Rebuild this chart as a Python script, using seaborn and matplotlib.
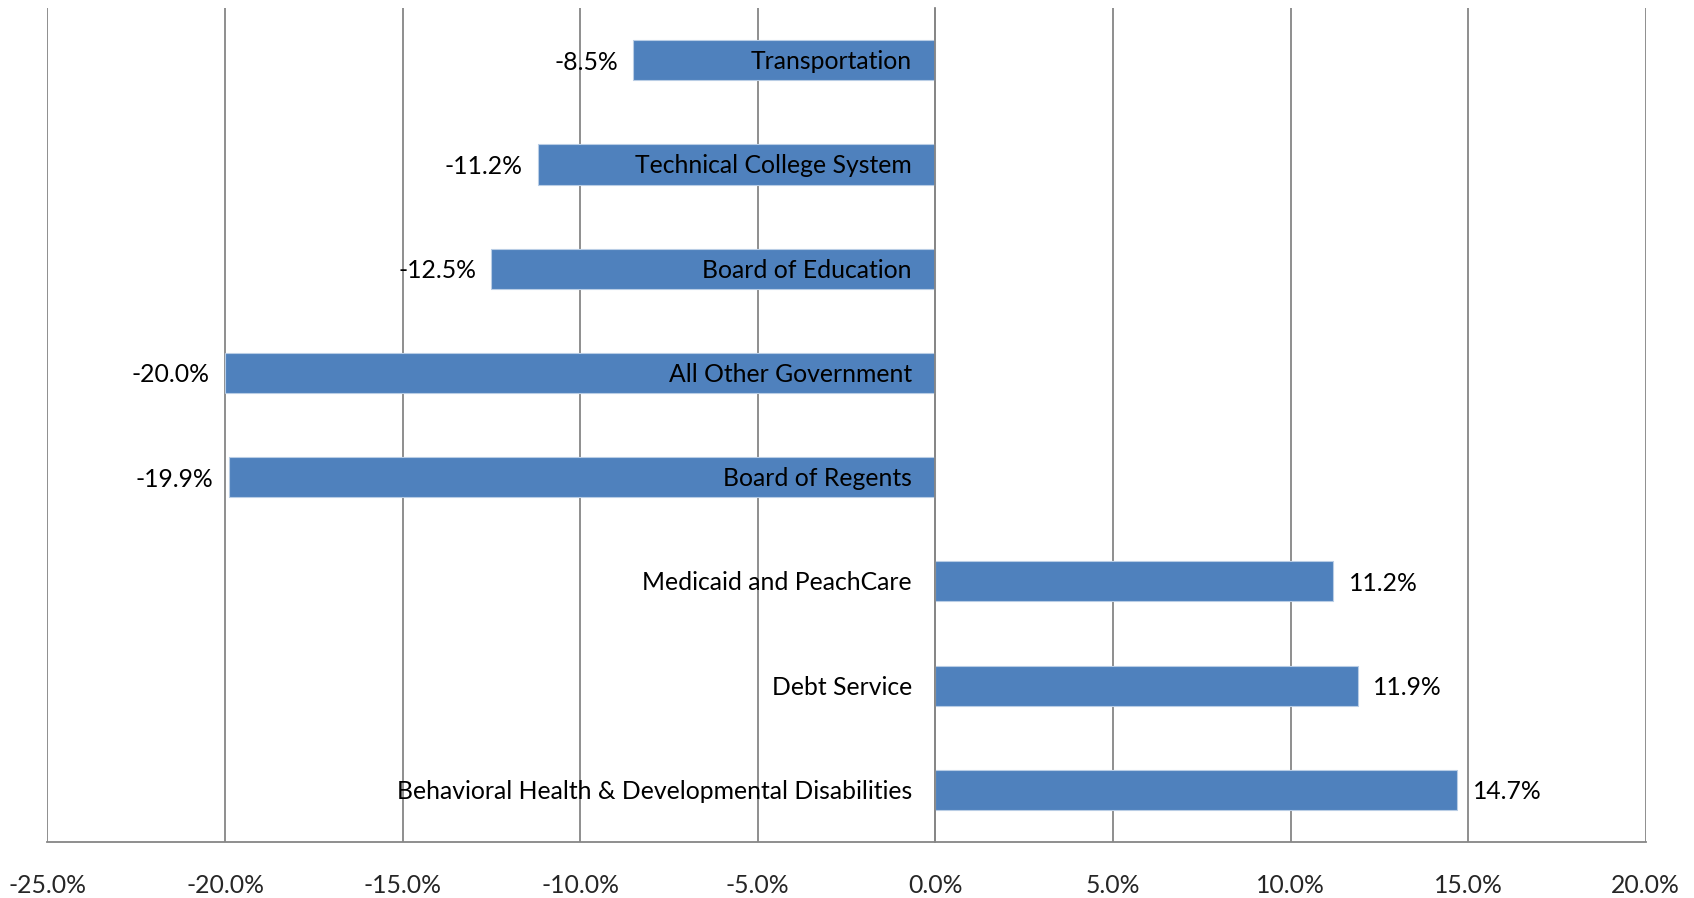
import numpy as np
import matplotlib
matplotlib.use("Agg")
import matplotlib.pyplot as plt
import seaborn as sns
from matplotlib.ticker import FuncFormatter

# Data (percent change), top to bottom as shown
categories = [
    "Transportation",
    "Technical College System",
    "Board of Education",
    "All Other Government",
    "Board of Regents",
    "Medicaid and PeachCare",
    "Debt Service",
    "Behavioral Health & Developmental Disabilities",
]
changes = [-8.5, -11.2, -12.5, -20.0, -19.9, 11.2, 11.9, 14.7]
x_ticks = [-25, -20, -15, -10, -5, 0, 5, 10, 15, 20]

BAR = "#4F81BD"
GRID = "#868686"
FS = 17.8

sns.set_style("white")
plt.rcParams["font.family"] = ["Lato", "DejaVu Sans"]

fig = plt.figure(figsize=(16.94, 8.98), dpi=100)
ax = fig.add_axes([0.028, 0.0624, 0.9435, 0.9286])

sns.barplot(x=changes, y=categories, orient="h", color=BAR, saturation=1,
            width=0.385, edgecolor="#B9CDE5", linewidth=0.8, ax=ax, zorder=2)

ax.set_xlim(-25, 20)
ax.set_ylim(len(categories) - 0.5, -0.5)
ax.set_xticks(x_ticks)
ax.xaxis.set_major_formatter(FuncFormatter(lambda v, p: f"{v:.1f}%"))
ax.tick_params(axis="x", direction="out", length=5.5, width=1.3, color=GRID,
               pad=17.5, labelsize=FS)
ax.grid(axis="x", color=GRID, linewidth=1.3)
ax.set_axisbelow(True)

# y axis sits on zero, with ticks between categories
ax.set_yticks([])
ax.set_yticks(np.arange(-0.5, len(categories)), minor=True)
ax.tick_params(axis="y", which="minor", direction="out", length=6, width=1.3,
               color=GRID, labelleft=False)
ax.spines["left"].set_position(("data", 0))
for side in ["left", "bottom"]:
    ax.spines[side].set_color(GRID)
    ax.spines[side].set_linewidth(1.3)
for side in ["top", "right"]:
    ax.spines[side].set_visible(False)
ax.set_xlabel("")
ax.set_ylabel("")

for i, (name, v) in enumerate(zip(categories, changes)):
    ax.annotate(name, xy=(0, i), xytext=(-17, -1), textcoords="offset points",
                ha="right", va="center", fontsize=FS, color="black", zorder=5)
    off = 11 if v > 0 else -11
    ax.annotate(f"{v:.1f}%", xy=(v, i), xytext=(off, -1.5), textcoords="offset points",
                ha="left" if v > 0 else "right", va="center", fontsize=FS,
                color="black", zorder=5)

fig.savefig("out.png", dpi=100)
